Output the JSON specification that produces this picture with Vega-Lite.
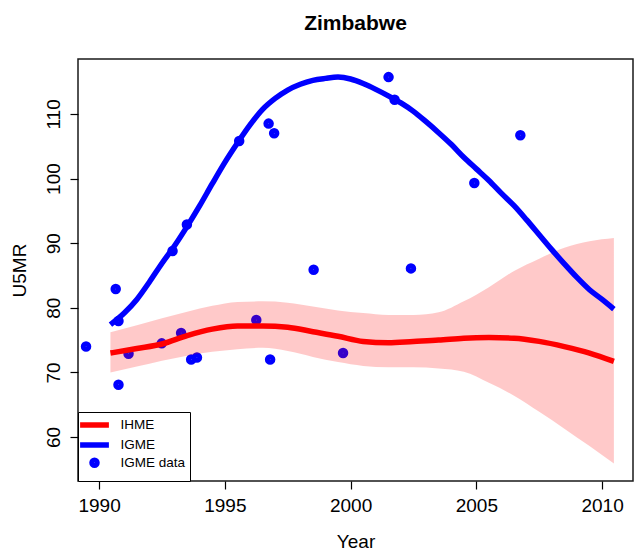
{
  "$schema": "https://vega.github.io/schema/vega-lite/v6.json",
  "width": 555,
  "height": 422,
  "autosize": {"type": "none"},
  "padding": {"left": 78, "top": 59, "right": 5, "bottom": 75},
  "background": "white",
  "config": {
    "view": {"stroke": "#1a1a1a", "strokeWidth": 1.5},
    "font": "Liberation Sans",
    "legend": {
      "orient": "bottom-left", "offset": 0, "padding": 4,
      "strokeColor": "black", "fillColor": "white",
      "symbolStrokeWidth": 5.5, "symbolOpacity": 1, "symbolOffset": 3.5,
      "labelFont": "Liberation Sans", "labelFontSize": 13.5, "labelColor": "black",
      "labelOffset": 17, "rowPadding": -9
    }
  },
  "title": {"text": "Zimbabwe", "fontSize": 21, "fontWeight": "bold", "font": "Liberation Sans", "anchor": "middle", "frame": "group", "baseline": "alphabetic", "offset": 8, "color": "black"},
  "datasets": {
    "igmedata": [
      {"series": "IGME data", "year": 1989.48, "value": 74.0},
      {"series": "IGME data", "year": 1990.66, "value": 82.9},
      {"series": "IGME data", "year": 1990.77, "value": 77.95},
      {"series": "IGME data", "year": 1990.77, "value": 68.1},
      {"series": "IGME data", "year": 1991.17, "value": 72.9},
      {"series": "IGME data", "year": 1992.49, "value": 74.5},
      {"series": "IGME data", "year": 1992.92, "value": 88.8},
      {"series": "IGME data", "year": 1993.26, "value": 76.1},
      {"series": "IGME data", "year": 1993.49, "value": 92.9},
      {"series": "IGME data", "year": 1993.66, "value": 72.0},
      {"series": "IGME data", "year": 1993.89, "value": 72.3},
      {"series": "IGME data", "year": 1995.57, "value": 105.8},
      {"series": "IGME data", "year": 1996.25, "value": 78.1},
      {"series": "IGME data", "year": 1996.74, "value": 108.5},
      {"series": "IGME data", "year": 1996.8, "value": 72.0},
      {"series": "IGME data", "year": 1996.96, "value": 107.0},
      {"series": "IGME data", "year": 1998.53, "value": 85.9},
      {"series": "IGME data", "year": 1999.7, "value": 73.0},
      {"series": "IGME data", "year": 2001.51, "value": 115.7},
      {"series": "IGME data", "year": 2001.75, "value": 112.2},
      {"series": "IGME data", "year": 2002.4, "value": 86.1},
      {"series": "IGME data", "year": 2004.92, "value": 99.3},
      {"series": "IGME data", "year": 2006.75, "value": 106.7}
    ],
    "ihme": [
      {"series": "IHME", "year": 1990.45, "value": 73.0, "lo": 70.0, "hi": 76.2},
      {"series": "IHME", "year": 1991.5, "value": 73.7, "lo": 70.9, "hi": 77.3},
      {"series": "IHME", "year": 1992.5, "value": 74.4, "lo": 71.8, "hi": 78.4},
      {"series": "IHME", "year": 1993.5, "value": 75.7, "lo": 72.6, "hi": 79.4},
      {"series": "IHME", "year": 1994.5, "value": 76.7, "lo": 73.2, "hi": 80.3},
      {"series": "IHME", "year": 1995.5, "value": 77.2, "lo": 73.6, "hi": 80.9},
      {"series": "IHME", "year": 1996.5, "value": 77.2, "lo": 73.8, "hi": 81.0},
      {"series": "IHME", "year": 1997.5, "value": 77.0, "lo": 73.3, "hi": 80.8},
      {"series": "IHME", "year": 1998.5, "value": 76.3, "lo": 72.4, "hi": 80.2},
      {"series": "IHME", "year": 1999.5, "value": 75.6, "lo": 71.6, "hi": 79.6},
      {"series": "IHME", "year": 2000.5, "value": 74.8, "lo": 71.0, "hi": 79.2},
      {"series": "IHME", "year": 2001.5, "value": 74.6, "lo": 70.8, "hi": 78.9},
      {"series": "IHME", "year": 2002.5, "value": 74.8, "lo": 70.8, "hi": 78.9},
      {"series": "IHME", "year": 2003.5, "value": 75.0, "lo": 70.6, "hi": 79.3},
      {"series": "IHME", "year": 2004.5, "value": 75.3, "lo": 70.1, "hi": 81.0},
      {"series": "IHME", "year": 2005.5, "value": 75.4, "lo": 68.4, "hi": 83.2},
      {"series": "IHME", "year": 2006.5, "value": 75.3, "lo": 66.4, "hi": 85.7},
      {"series": "IHME", "year": 2007.5, "value": 74.8, "lo": 63.9, "hi": 87.6},
      {"series": "IHME", "year": 2008.5, "value": 74.0, "lo": 61.3, "hi": 89.3},
      {"series": "IHME", "year": 2009.5, "value": 73.0, "lo": 58.6, "hi": 90.3},
      {"series": "IHME", "year": 2010.47, "value": 71.7, "lo": 55.9, "hi": 90.8}
    ],
    "igme": [
      {"series": "IGME", "year": 1990.45, "value": 77.4},
      {"series": "IGME", "year": 1991.0, "value": 79.2},
      {"series": "IGME", "year": 1991.5, "value": 81.3},
      {"series": "IGME", "year": 1992.0, "value": 84.0},
      {"series": "IGME", "year": 1992.5, "value": 86.9},
      {"series": "IGME", "year": 1993.0, "value": 89.6},
      {"series": "IGME", "year": 1993.5, "value": 92.6},
      {"series": "IGME", "year": 1994.0, "value": 95.8},
      {"series": "IGME", "year": 1994.5, "value": 99.2},
      {"series": "IGME", "year": 1995.0, "value": 102.5},
      {"series": "IGME", "year": 1995.5, "value": 105.5},
      {"series": "IGME", "year": 1996.0, "value": 108.3},
      {"series": "IGME", "year": 1996.5, "value": 110.7},
      {"series": "IGME", "year": 1997.0, "value": 112.4},
      {"series": "IGME", "year": 1997.5, "value": 113.7},
      {"series": "IGME", "year": 1998.0, "value": 114.6},
      {"series": "IGME", "year": 1998.5, "value": 115.2},
      {"series": "IGME", "year": 1999.0, "value": 115.5},
      {"series": "IGME", "year": 1999.5, "value": 115.7},
      {"series": "IGME", "year": 2000.0, "value": 115.4},
      {"series": "IGME", "year": 2000.5, "value": 114.7},
      {"series": "IGME", "year": 2001.0, "value": 113.8},
      {"series": "IGME", "year": 2001.5, "value": 112.8},
      {"series": "IGME", "year": 2002.0, "value": 111.7},
      {"series": "IGME", "year": 2002.5, "value": 110.4},
      {"series": "IGME", "year": 2003.0, "value": 108.8},
      {"series": "IGME", "year": 2003.5, "value": 107.1},
      {"series": "IGME", "year": 2004.0, "value": 105.3},
      {"series": "IGME", "year": 2004.5, "value": 103.3},
      {"series": "IGME", "year": 2005.0, "value": 101.5},
      {"series": "IGME", "year": 2005.5, "value": 99.7},
      {"series": "IGME", "year": 2006.0, "value": 97.7},
      {"series": "IGME", "year": 2006.5, "value": 95.8},
      {"series": "IGME", "year": 2007.0, "value": 93.6},
      {"series": "IGME", "year": 2007.5, "value": 91.3},
      {"series": "IGME", "year": 2008.0, "value": 89.0},
      {"series": "IGME", "year": 2008.5, "value": 86.8},
      {"series": "IGME", "year": 2009.0, "value": 84.7},
      {"series": "IGME", "year": 2009.5, "value": 82.8},
      {"series": "IGME", "year": 2010.0, "value": 81.3},
      {"series": "IGME", "year": 2010.47, "value": 79.8}
    ]
  },
  "encoding": {
    "x": {
      "field": "year", "type": "quantitative",
      "scale": {"domain": [1989.16, 2011.23], "nice": false, "zero": false},
      "axis": {
        "values": [1990, 1995, 2000, 2005, 2010], "format": "d",
        "domain": false, "grid": false, "tickSize": 8, "tickColor": "black", "tickWidth": 1.2,
        "labelFont": "Liberation Sans", "labelFontSize": 19, "labelColor": "black",
        "labelBaseline": "alphabetic", "labelPadding": 22, "labelFlush": false,
        "title": "Year", "titleFont": "Liberation Sans", "titleFontSize": 19, "titleFontWeight": "normal",
        "titleColor": "black", "titleBaseline": "alphabetic", "titleY": 66
      }
    },
    "y": {
      "field": "value", "type": "quantitative",
      "scale": {"domain": [53.2, 118.5], "nice": false, "zero": false},
      "axis": {
        "values": [60, 70, 80, 90, 100, 110],
        "domain": false, "grid": false, "tickSize": 8, "tickColor": "black", "tickWidth": 1.2,
        "labelFont": "Liberation Sans", "labelFontSize": 19, "labelColor": "black",
        "labelAngle": 270, "labelAlign": "center", "labelBaseline": "alphabetic", "labelPadding": 11,
        "title": "U5MR", "titleFont": "Liberation Sans", "titleFontSize": 19, "titleFontWeight": "normal",
        "titleColor": "black", "titleAngle": 270, "titleBaseline": "alphabetic", "titleX": -53
      }
    }
  },
  "layer": [
    {
      "data": {"name": "igmedata"},
      "mark": {"type": "point", "filled": false, "strokeWidth": 5.5, "opacity": 1},
      "encoding": {
        "color": {
          "field": "series", "type": "nominal",
          "scale": {"domain": ["IHME", "IGME", "IGME data"], "range": ["#ff0000", "#0000ff", "#0000ff"]},
          "legend": {"title": null}
        },
        "shape": {
          "field": "series", "type": "nominal",
          "scale": {"domain": ["IHME", "IGME", "IGME data"], "range": ["M-2.4,0H2.4", "M-2.4,0H2.4", "circle"]},
          "legend": {"title": null}
        },
        "size": {
          "field": "series", "type": "nominal",
          "scale": {"type": "ordinal", "domain": ["IHME", "IGME", "IGME data"], "range": [144, 144, 25]},
          "legend": {"title": null}
        }
      }
    },
    {
      "data": {"name": "ihme"},
      "mark": {"type": "area", "color": "#ff0000", "opacity": 0.21, "interpolate": "monotone"},
      "encoding": {
        "y": {"field": "lo", "type": "quantitative"},
        "y2": {"field": "hi"}
      }
    },
    {
      "data": {"name": "ihme"},
      "mark": {"type": "line", "strokeWidth": 5.5, "interpolate": "monotone"},
      "encoding": {"color": {"field": "series", "type": "nominal", "legend": null}}
    },
    {
      "data": {"name": "igme"},
      "mark": {"type": "line", "strokeWidth": 5.5, "interpolate": "monotone"},
      "encoding": {"color": {"field": "series", "type": "nominal", "legend": null}}
    }
  ]
}
